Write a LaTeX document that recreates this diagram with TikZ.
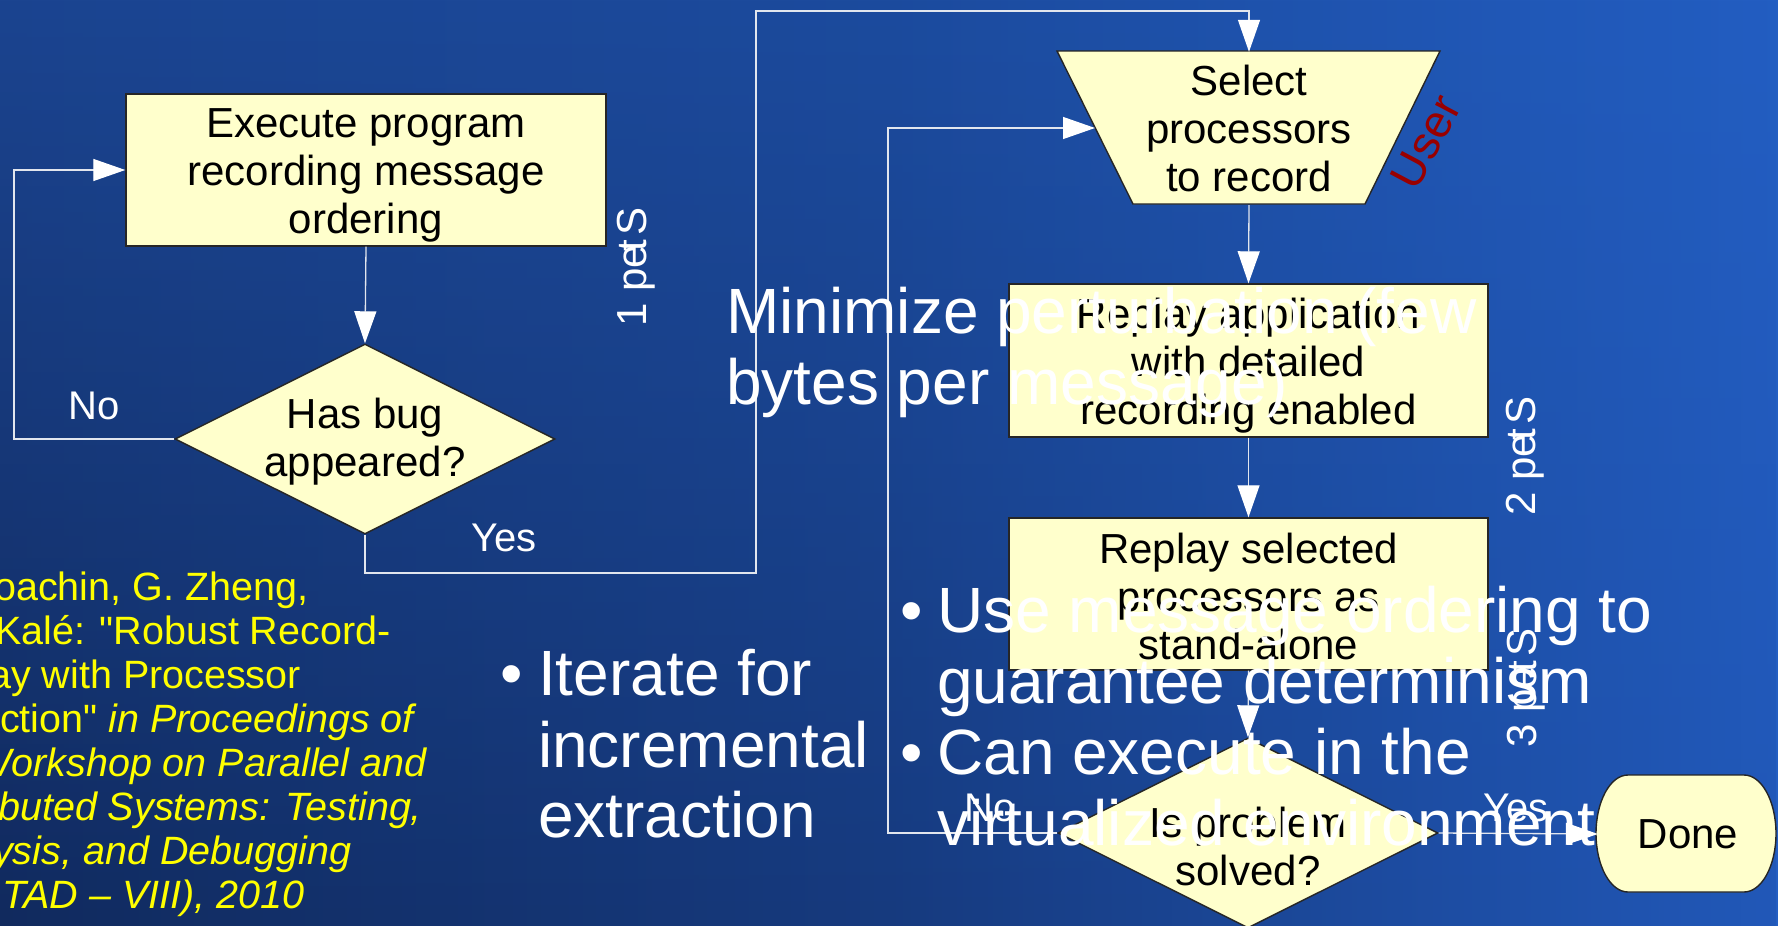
\documentclass[tikz,border=0pt]{standalone}
\usepackage{fontspec}
\setmainfont{Liberation Sans}[Ligatures=TeXOff]
\usetikzlibrary{arrows.meta,shapes.geometric,fadings}
\definecolor{boxy}{HTML}{FFFFCC}
\definecolor{linec}{HTML}{E2E6EE}
\definecolor{citec}{HTML}{FFFF00}
\definecolor{userred}{HTML}{990000}
\definecolor{tA}{HTML}{1A3D82}
\definecolor{tB}{HTML}{1C4B9E}
\definecolor{tC}{HTML}{2563CC}
\definecolor{tD}{HTML}{3472D4}
\definecolor{bA}{HTML}{0B1A3E}
\definecolor{bB}{HTML}{163A7E}
\definecolor{bC}{HTML}{2460C8}
\definecolor{bD}{HTML}{2A68CC}
\pgfdeclarehorizontalshading{bgtopsh}{100bp}{color(0bp)=(tA); color(50bp)=(tB); color(82bp)=(tC); color(100bp)=(tD)}
\pgfdeclarehorizontalshading{bgbotsh}{100bp}{color(0bp)=(bA); color(50bp)=(bB); color(82bp)=(bC); color(100bp)=(bD)}
\newcommand\flipg[1]{\scalebox{-1}[-1]{#1}}
\newcommand\steptext[1]{\flipg{S}\kern5pt\flipg{t}\kern-7pt\flipg{e}\flipg{p} \flipg{#1}}
\begin{document}
\begin{tikzpicture}[x=1pt,y=-1pt,
  boxst/.style={draw=black!85, line width=1.4pt, fill=boxy},
  boxtxt/.style={font=\fontsize{42}{48}\selectfont, text=black, align=center, inner sep=0pt},
  conn/.style={draw=linec, line width=1.3pt, -{Triangle[length=32pt,width=22pt,color=white]}},
  lbl/.style={font=\fontsize{40}{46}\selectfont, text=white, inner sep=0pt},
  big/.style={font=\fontsize{64}{71}\selectfont, text=white, inner sep=0pt, anchor=base west},
  citet/.style={font=\fontsize{39.5}{44}\selectfont, text=citec, inner sep=0pt, anchor=base west},
  steplbl/.style={font=\fontsize{42}{48}\selectfont, text=white, inner sep=0pt, anchor=base west, rotate=-90},
]
\useasboundingbox (0,0) rectangle (1778,926);
\clip (0,0) rectangle (1778,926);
% background
\shade[shading=bgtopsh] (0,0) rectangle (1778,926);
\shade[shading=bgbotsh, path fading=north] (0,0) rectangle (1778,926);

% left flow
\node[boxst, minimum width=480pt, minimum height=152pt] (b1) at (366,170) {};
\node[boxtxt] (b1t) at (366,175) {Execute program\\recording message\\ordering};
\node[diamond, boxst, aspect=2, inner sep=0pt, minimum width=380pt, minimum height=190pt] (d1) at (365,439) {};
\node[boxtxt] (d1t) at (365,442) {Has bug\\appeared?};

% trapezoid
\draw[boxst] (1057,51) -- (1440,51) -- (1365,204) -- (1133,204) -- cycle;
\node[boxtxt, minimum width=383pt, minimum height=153pt] (sel) at (1249,128.5) {Select\\processors\\to record};
\coordinate (selL) at (1095,128);

\node[boxst, minimum width=479pt, minimum height=153pt] (b2) at (1248.5,360.5) {};
\node[boxtxt] (b2t) at (1248.5,366) {Replay application\\with detailed\\recording enabled};
\node[boxst, minimum width=479pt, minimum height=152pt] (b3) at (1248.5,594) {};
\node[boxtxt] (b3t) at (1248.5,596) {Replay selected\\processors as\\stand-alone};
\node[diamond, boxst, aspect=2, inner sep=0pt, minimum width=380pt, minimum height=190pt] (d2) at (1248,833) {};
\node[boxtxt] (d2t) at (1248,846) {Is problem\\solved?};

% Done terminator
\draw[boxst] (1628,775) -- (1744,775) arc[start angle=90, end angle=-90, x radius=32pt, y radius=58.5pt] -- (1628,892) arc[start angle=270, end angle=90, x radius=32pt, y radius=58.5pt] -- cycle;
\node[boxtxt, minimum width=180pt, minimum height=117pt] (done) at (1688,834) {Done};

% connectors
\draw[conn] (b1.south) -- (d1.north);
\draw[conn] (d1.west) -- (14,439) |- (b1.west);
\draw[conn] (d1.south) |- (756,573) -- (756,11) -| (sel.north);
\draw[conn] (sel.south) -- (b2.north);
\draw[conn] (b2.south) -- (b3.north);
\draw[conn] (b3.south) -- (d2.north);
\draw[conn] (d2.east) -- (done.west);
\draw[conn] (d2.west) -| (888,500) |- (selL);

% labels
\node[lbl] (no1) at (94,406) {No};
\node[lbl] (yes1) at (504,538) {Yes};
\node[lbl] (no2) at (990,808) {No};
\node[lbl] (yes2) at (1516,808) {Yes};

\node[steplbl] (s1) at (646,207) {\steptext{1}};
\node[steplbl] (s2) at (1535,396) {\steptext{2}};
\node[steplbl] (s3) at (1536,628) {\steptext{3}};

\node[font=\fontsize{46}{52}\selectfont, text=userred, rotate=62, inner sep=0pt] (user) at (1426,142) {User};

% citation
\node[citet] (c1) at (-6,600) {oachin, G. Zheng,};
\node[citet] (c2) at (-5,644) {Kalé: "Robust Record-};
\node[citet] (c3) at (-11,688) {ay with Processor};
\node[citet] (c4) at (0,732) {ction" \textit{in Proceedings of}};
\node[citet] (c5) at (-26,776) {\textit{Workshop on Parallel and}};
\node[citet] (c6) at (-2,820) {\textit{buted Systems: Testing,}};
\node[citet] (c7) at (-7,864) {\textit{ysis, and Debugging}};
\node[citet] (c8) at (2,908) {\textit{TAD – VIII), 2010}};

% big white text
\node[big] (m1) at (726,333) {Minimize perturbation (few};
\node[big] (m2) at (726,404) {bytes per message)};
\node[big] (bu1) at (900,632) {•};
\node[big] (u1) at (937,632) {Use message ordering to};
\node[big] (u2) at (937,703) {guarantee determinism};
\node[big] (bu2) at (900,774) {•};
\node[big] (u3) at (937,774) {Can execute in the};
\node[big] (u4) at (937,845) {virtualized environment};
\node[big] (bu3) at (500,695) {•};
\node[big] (i1) at (538,695) {Iterate for};
\node[big] (i2) at (538,767) {incremental};
\node[big] (i3) at (538,837) {extraction};
\end{tikzpicture}
\end{document}
